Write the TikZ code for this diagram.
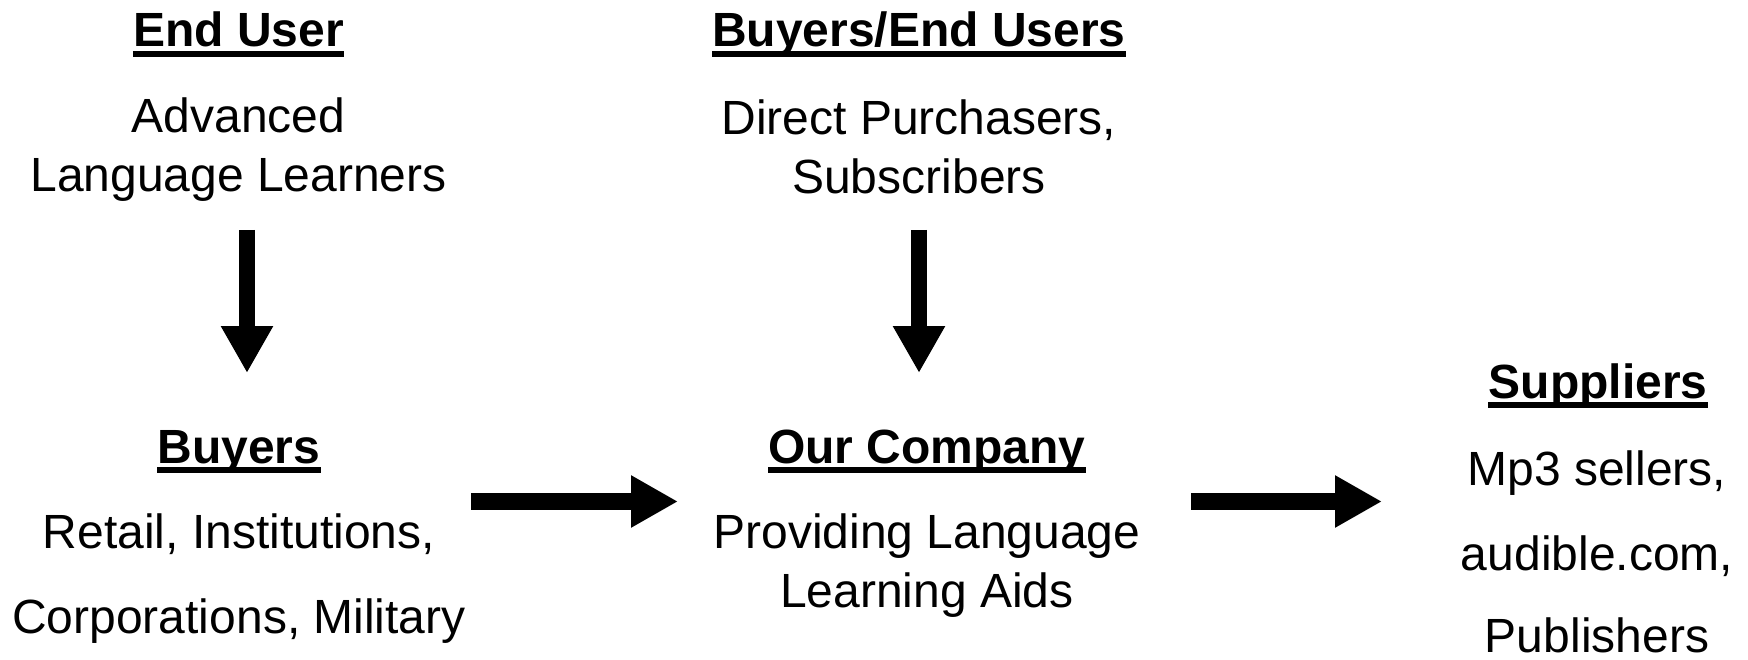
\documentclass[tikz,border=0pt]{standalone}
\usepackage{fontspec}
\setmainfont{Liberation Sans}
\usetikzlibrary{arrows.meta}

\begin{document}
\begin{tikzpicture}[x=1pt,y=-1pt,
  txt/.style={inner sep=0pt,anchor=base,font=\fontsize{48}{59}\selectfont},
  head/.style={txt,font=\fontsize{48}{59}\selectfont\bfseries},
  uline/.style={line width=6pt},
  bigarrow/.style={line width=16.5pt,line cap=butt,
    -{Triangle[length=47pt,width=49pt]}}]
\useasboundingbox (0,0) rectangle (1748,660);

% End user block
\node[head] (eu-t) at (238.5,47) {End User};
\node[txt]  (eu-1) at (238.5,133) {Advanced};
\node[txt]  (eu-2) at (238.5,192) {Language Learners};

% Buyers / end users block
\node[head] (be-t) at (919,47) {Buyers/End Users};
\node[txt]  (be-1) at (919,135) {Direct Purchasers,};
\node[txt]  (be-2) at (919,194) {Subscribers};

% Buyers block
\node[head] (bu-t) at (239,463) {Buyers};
\node[txt]  (bu-1) at (239,548) {Retail, Institutions,};
\node[txt]  (bu-2) at (239,633) {Corporations, Military};

% Company block
\node[head] (co-t) at (927,463) {Our Company};
\node[txt]  (co-1) at (927,548) {Providing Language};
\node[txt]  (co-2) at (927,607) {Learning Aids};

% Suppliers block
\node[head] (su-t) at (1598,398) {Suppliers};
\node[txt]  (su-1) at (1597,485) {Mp3 sellers,};
\node[txt]  (su-2) at (1597,570) {audible.com,};
\node[txt]  (su-3) at (1597,652) {Publishers};

% underlined headings
\foreach \n in {eu-t,be-t,bu-t,co-t,su-t}
  \draw[uline] ([yshift=-7pt]\n.base west) -- ([yshift=-7pt]\n.base east);

% arrow end points
\coordinate (a1s) at (247,230);
\coordinate (a1e) at (247,373);
\coordinate (a2s) at (919,230);
\coordinate (a2e) at (919,373);
\coordinate (a3s) at (471,501.5);
\coordinate (a3e) at (678,501.5);
\coordinate (a4s) at (1191,501.5);
\coordinate (a4e) at (1382,501.5);

\draw[bigarrow] (a1s) -- (a1e);
\draw[bigarrow] (a2s) -- (a2e);
\draw[bigarrow] (a3s) -- (a3e);
\draw[bigarrow] (a4s) -- (a4e);
\end{tikzpicture}
\end{document}
